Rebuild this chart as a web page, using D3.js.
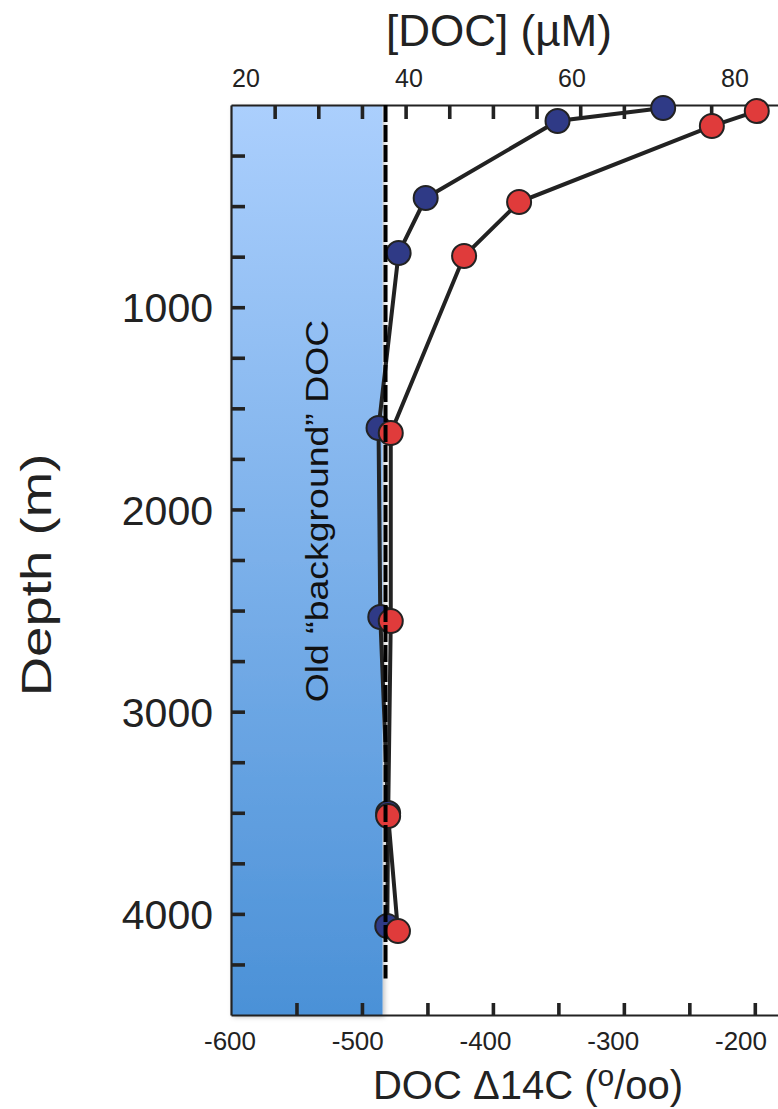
<!DOCTYPE html>
<html>
<head>
<meta charset="utf-8">
<script src="https://cdn.jsdelivr.net/npm/d3@7"></script>
<style>
  body { margin: 0; background: #fff; }
  svg { display: block; font-family: "Liberation Sans", Arial, sans-serif; }
</style>
</head>
<body>
<svg></svg>
<script>
// blue profile, read against the top [DOC] axis
let blueDepth = [15, 79, 460, 732, 1597, 2532, 3501, 4060]
let blueDoc = [69.5, 57.4, 42.3, 39.2, 36.9, 37.1, 38.0, 37.9]

// red profile, read against the bottom DOC D14C axis
let redDepth = [30, 104, 480, 747, 1622, 2552, 3516, 4085]
let redDelta = [-198.5, -232.8, -380, -422, -478, -478, -480, -472.5]

let docTicks = [20, 40, 60, 80]
let deltaTicks = [-600, -500, -400, -300, -200]
let depthTicks = [1000, 2000, 3000, 4000]

let backgroundDelta = -482
let backgroundDepth = 4320

let width = 778
let height = 1109
let plotLeft = 231
let plotRight = 781
let plotTop = 105
let plotBottom = 1015

let ink = '#222'

let svg = d3.select('svg')
  .attr('width', width)
  .attr('height', height)

let xDoc = d3.scaleLinear().domain([20, 83]).range([plotLeft, plotRight])
let xDelta = d3.scaleLinear().domain([-600, -180]).range([plotLeft, plotRight])
let yDepth = d3.scaleLinear().domain([0, 4500]).range([plotTop, plotBottom])

// tick labels in the figure sit a little off their tick marks
let docLabelX = d3.scaleLinear().domain([20, 80]).range([246, 735])
let deltaLabelX = d3.scaleLinear().domain([-600, -200]).range([230, 741])

let defs = svg.append('defs')
let grad = defs.append('linearGradient')
  .attr('id', 'bg-grad')
  .attr('x1', 0).attr('y1', 0).attr('x2', 0).attr('y2', 1)
grad.append('stop').attr('offset', '0%').attr('stop-color', '#abcffd')
grad.append('stop').attr('offset', '100%').attr('stop-color', '#4b91d7')

let shadow = defs.append('filter')
  .attr('id', 'soft')
  .attr('x', '-10%').attr('y', '-10%').attr('width', '130%').attr('height', '130%')
shadow.append('feDropShadow')
  .attr('dx', 2).attr('dy', 2).attr('stdDeviation', 2.5)
  .attr('flood-color', '#000').attr('flood-opacity', 0.25)

// old background band
svg.append('rect')
  .attr('x', xDelta(-600))
  .attr('y', yDepth(0))
  .attr('width', xDelta(backgroundDelta) - xDelta(-600) - 3)
  .attr('height', yDepth(4500) - yDepth(0))
  .attr('fill', 'url(#bg-grad)')
  .attr('filter', 'url(#soft)')

svg.append('text')
  .attr('transform', 'translate(' + 328 + ',' + 511 + ') rotate(-90) scale(1.17,1)')
  .attr('text-anchor', 'middle')
  .style('font-size', '32px')
  .style('fill', '#111')
  .text('Old \u201cbackground\u201d DOC')

// axes
let styleAxis = (g) => {
  g.select('.domain').attr('stroke', ink).attr('stroke-width', 2.2)
  g.selectAll('.tick line').attr('stroke', ink).attr('stroke-width', 3.6)
  g.selectAll('.tick text').attr('fill', ink)
}

let topAxis = d3.axisTop(xDoc)
  .tickValues(d3.range(25, 81, 5))
  .tickSizeInner(-14)
  .tickSizeOuter(0)
  .tickFormat('')

svg.append('g')
  .attr('transform', 'translate(0,' + plotTop + ')')
  .call(topAxis)
  .call(styleAxis)

let bottomAxis = d3.axisBottom(xDelta)
  .tickValues(d3.range(-550, -199, 50))
  .tickSizeInner(-12)
  .tickSizeOuter(0)
  .tickFormat('')

svg.append('g')
  .attr('transform', 'translate(0,' + plotBottom + ')')
  .call(bottomAxis)
  .call(styleAxis)

let leftAxis = d3.axisLeft(yDepth)
  .tickValues(d3.range(250, 4500, 250))
  .tickSizeInner(-14)
  .tickSizeOuter(0)
  .tickPadding(18)
  .tickFormat((d) => depthTicks.includes(d) ? d : '')

svg.append('g')
  .attr('transform', 'translate(' + plotLeft + ',0)')
  .call(leftAxis)
  .call(styleAxis)
  .call((g) => g.selectAll('.tick text')
    .style('font-size', '41px')
    .style('font-family', '"Liberation Sans", Arial, sans-serif')
    .attr('dy', '0.36em'))

svg.append('g')
  .selectAll('text')
  .data(docTicks)
  .enter()
  .append('text')
  .attr('x', (d) => docLabelX(d))
  .attr('y', 87)
  .attr('text-anchor', 'middle')
  .style('font-size', '25px')
  .style('fill', ink)
  .text((d) => d)

svg.append('g')
  .selectAll('text')
  .data(deltaTicks)
  .enter()
  .append('text')
  .attr('x', (d) => deltaLabelX(d))
  .attr('y', 1050)
  .attr('text-anchor', 'middle')
  .style('font-size', '26px')
  .style('fill', ink)
  .text((d) => d)

// axis titles
svg.append('text')
  .attr('x', 499)
  .attr('y', 46)
  .attr('text-anchor', 'middle')
  .style('font-size', '44px')
  .style('fill', ink)
  .text('[DOC] (\u00b5M)')

let bottomTitle = svg.append('text')
  .attr('x', 528)
  .attr('y', 1099)
  .attr('text-anchor', 'middle')
  .style('font-size', '40px')
  .style('fill', ink)
bottomTitle.append('tspan').text('DOC \u039414C (')
bottomTitle.append('tspan').attr('dy', -13).style('font-size', '30px').text('o')
bottomTitle.append('tspan').attr('dy', 13).text('/oo)')

svg.append('text')
  .attr('transform', 'translate(' + 51 + ',' + 575 + ') rotate(-90) scale(1.3,1)')
  .attr('text-anchor', 'middle')
  .style('font-size', '42px')
  .style('fill', ink)
  .text('Depth (m)')

// profiles
let blue = blueDepth.map((d, i) => ({ x: xDoc(blueDoc[i]), y: yDepth(d) }))
let red = redDepth.map((d, i) => ({ x: xDelta(redDelta[i]), y: yDepth(d) }))

let line = d3.line().x((d) => d.x).y((d) => d.y)

svg.append('path')
  .datum(blue)
  .attr('d', line)
  .attr('fill', 'none')
  .attr('stroke', ink)
  .attr('stroke-width', 4)

svg.append('path')
  .datum(red)
  .attr('d', line)
  .attr('fill', 'none')
  .attr('stroke', ink)
  .attr('stroke-width', 4)

svg.selectAll('circle.blue')
  .data(blue)
  .enter()
  .append('circle')
  .attr('class', 'blue')
  .attr('cx', (d) => d.x)
  .attr('cy', (d) => d.y)
  .attr('r', 12)
  .attr('fill', '#2f3a86')
  .attr('stroke', ink)
  .attr('stroke-width', 2)

svg.selectAll('circle.red')
  .data(red)
  .enter()
  .append('circle')
  .attr('class', 'red')
  .attr('cx', (d) => d.x)
  .attr('cy', (d) => d.y)
  .attr('r', 12)
  .attr('fill', '#e03b3b')
  .attr('stroke', ink)
  .attr('stroke-width', 2)

// background line
svg.append('line')
  .attr('x1', xDelta(backgroundDelta))
  .attr('x2', xDelta(backgroundDelta))
  .attr('y1', yDepth(0))
  .attr('y2', yDepth(backgroundDepth))
  .attr('stroke', '#000')
  .attr('stroke-width', 4)
  .attr('stroke-dasharray', '17,3')
</script>
</body>
</html>
